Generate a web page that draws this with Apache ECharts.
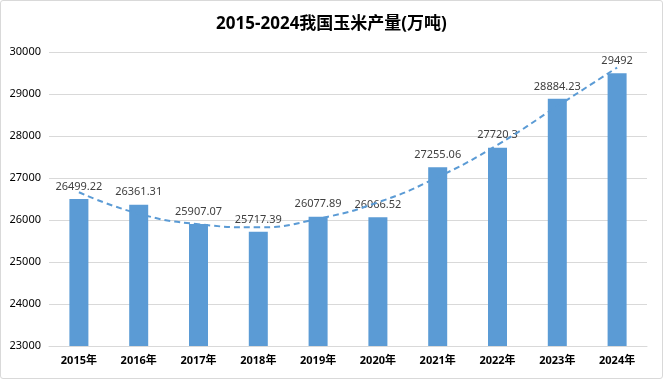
<!DOCTYPE html>
<html>
<head>
<meta charset="utf-8">
<script src="https://cdn.jsdelivr.net/npm/echarts@6/dist/echarts.min.js"></script>
<style>
html,body{margin:0;padding:0;background:#fff;}
#c{position:absolute;left:0;top:0;width:661px;height:377px;border:1px solid #d9d9d9;border-radius:3px;}
</style>
</head>
<body>
<div id="c"></div>
<script>
const titleText = '2015-2024我国玉米产量(万吨)';
const categories = ['2015年','2016年','2017年','2018年','2019年','2020年','2021年','2022年','2023年','2024年'];
const output = [26499.22, 26361.31, 25907.07, 25717.39, 26077.89, 26066.52, 27255.06, 27720.3, 28884.23, 29492];
const labels = ['26499.22','26361.31','25907.07','25717.39','26077.89','26066.52','27255.06','27720.3','28884.23','29492'];
const trend = [26660, 26150, 25900, 25825, 26030, 26420, 27020, 27790, 28710, 29630];
const yTicks = {min: 23000, max: 30000, interval: 1000};

const chart = echarts.init(document.getElementById('c'), null, {renderer: 'canvas'});
const font = '"Noto Sans", "Noto Sans CJK SC", sans-serif';
chart.setOption({
  animation: false,
  textStyle: {fontFamily: font},
  title: {
    text: titleText, left: 'center', top: 10,
    textStyle: {fontSize: 17, fontWeight: 'bold', color: '#000', fontFamily: font}
  },
  grid: {left: 48, right: 15, top: 51, bottom: 32},
  xAxis: {
    type: 'category', data: categories,
    axisLine: {lineStyle: {color: '#d9d9d9'}},
    axisTick: {show: false},
    axisLabel: {color: '#000', fontSize: 11, fontWeight: 'bold', margin: 9, fontFamily: font}
  },
  yAxis: {
    type: 'value', min: yTicks.min, max: yTicks.max, interval: yTicks.interval,
    axisLine: {show: false}, axisTick: {show: false},
    splitLine: {lineStyle: {color: '#d9d9d9'}},
    axisLabel: {color: '#000', fontSize: 11, margin: 8, fontFamily: font, formatter: v => String(v)}
  },
  series: [
    {
      type: 'bar', data: output, barWidth: 19,
      itemStyle: {color: '#5b9bd5'},
      label: {
        show: true, position: 'top', distance: 7,
        formatter: p => labels[p.dataIndex],
        color: '#404040', fontSize: 11, fontFamily: font
      },
      z: 2
    },
    {
      type: 'line', data: trend, smooth: true, symbol: 'none',
      lineStyle: {color: '#5b9bd5', width: 2, type: [6, 4]},
      z: 3
    }
  ]
});
</script>
</body>
</html>
